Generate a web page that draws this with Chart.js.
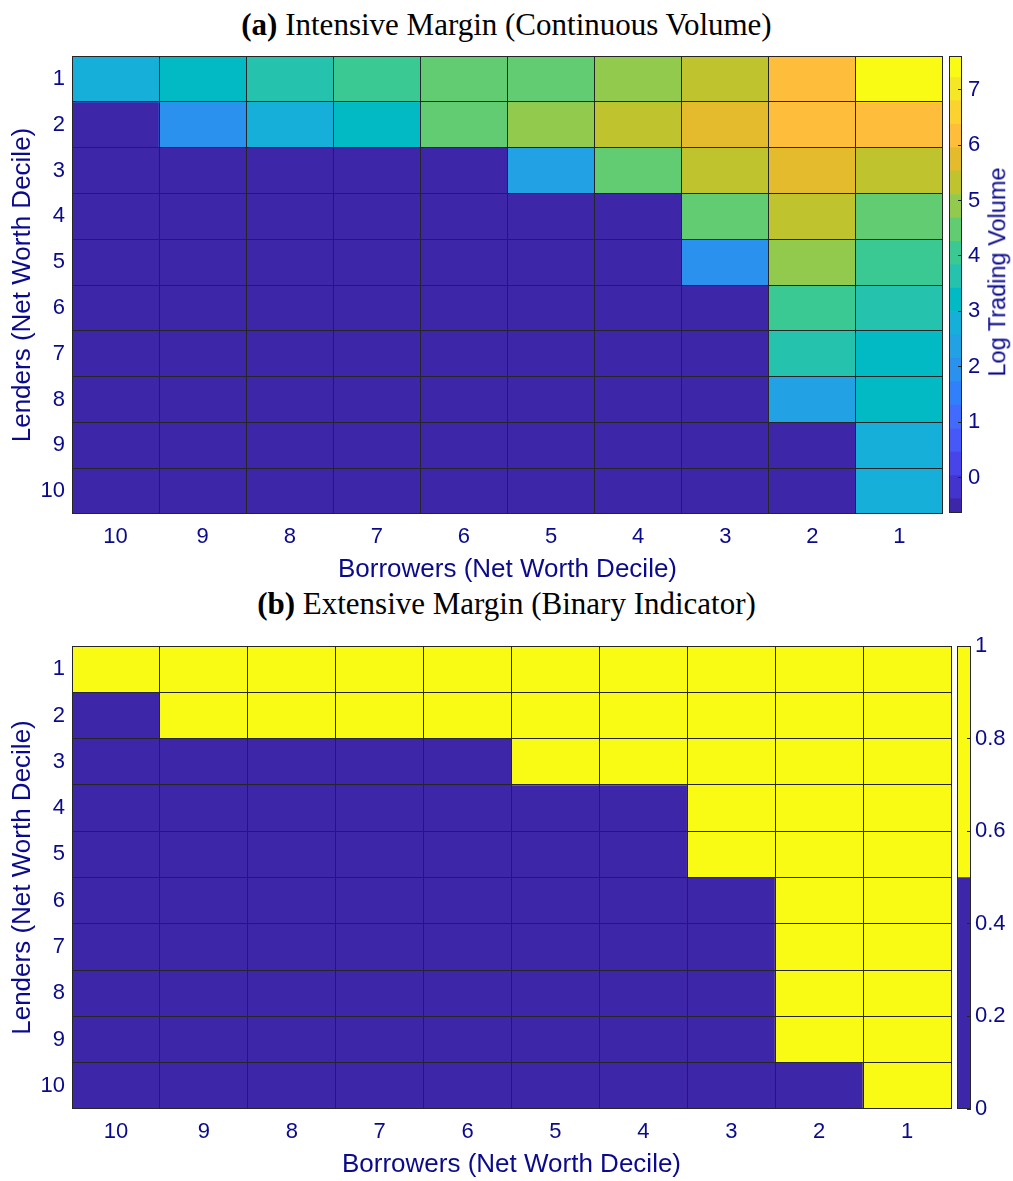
<!DOCTYPE html>
<html><head><meta charset="utf-8">
<script src="https://cdn.jsdelivr.net/npm/chart.js@4.4.1/dist/chart.umd.min.js"></script>
<style>
html,body{margin:0;padding:0;background:#fff;width:1013px;height:1181px;overflow:hidden;position:relative;}
canvas{position:absolute;}
.ttl{position:absolute;left:0;width:1013px;text-align:center;font-family:"Liberation Serif","Times New Roman",serif;font-size:31px;color:#000;white-space:nowrap;line-height:1;}
.cbl{position:absolute;font-family:"Liberation Sans",Arial,sans-serif;font-size:23.5px;color:#0a0a8c;white-space:nowrap;line-height:1;transform:translate(-50%,-50%) rotate(-90deg);}
</style></head><body>
<div class="ttl" style="top:9px"><b>(a)</b> Intensive Margin (Continuous Volume)</div>
<div class="ttl" style="top:588px"><b>(b)</b> Extensive Margin (Binary Indicator)</div>
<canvas id="heatA" width="945" height="531" style="left:0;top:54px"></canvas>
<canvas id="barA" width="66" height="489" style="left:947px;top:40px"></canvas>
<div class="cbl" style="left:998px;top:272px">Log Trading Volume</div>
<canvas id="heatB" width="953" height="536" style="left:0;top:644px"></canvas>
<canvas id="barB" width="58" height="495" style="left:955px;top:630px"></canvas>
<script>
// ---- categories ----
const borrowerDeciles = ['10','9','8','7','6','5','4','3','2','1'];
const lenderDeciles = [1,2,3,4,5,6,7,8,9,10];

// ---- (a) log trading volume, one array per lender decile (null = no trade) ----
const logVolL1  = [2.85, 3.25, 3.62, 4.02, 4.38, 4.60, 4.95, 5.35, 6.22, 7.55];
const logVolL2  = [null, 1.95, 2.75, 3.15, 4.45, 4.85, 5.40, 5.80, 6.10, 6.25];
const logVolL3  = [null, null, null, null, null, 2.40, 4.55, 5.25, 5.70, 5.20];
const logVolL4  = [null, null, null, null, null, null, null, 4.50, 5.45, 4.40];
const logVolL5  = [null, null, null, null, null, null, null, 1.90, 5.00, 4.15];
const logVolL6  = [null, null, null, null, null, null, null, null, 4.10, 3.70];
const logVolL7  = [null, null, null, null, null, null, null, null, 3.55, 3.30];
const logVolL8  = [null, null, null, null, null, null, null, null, 2.30, 3.10];
const logVolL9  = [null, null, null, null, null, null, null, null, -0.55, 2.90];
const logVolL10 = [null, null, null, null, null, null, null, null, null, 2.70];

// ---- (b) binary trade indicator ----
const tradeL1  = [1,1,1,1,1,1,1,1,1,1];
const tradeL2  = [0,1,1,1,1,1,1,1,1,1];
const tradeL3  = [0,0,0,0,0,1,1,1,1,1];
const tradeL4  = [0,0,0,0,0,0,0,1,1,1];
const tradeL5  = [0,0,0,0,0,0,0,1,1,1];
const tradeL6  = [0,0,0,0,0,0,0,0,1,1];
const tradeL7  = [0,0,0,0,0,0,0,0,1,1];
const tradeL8  = [0,0,0,0,0,0,0,0,1,1];
const tradeL9  = [0,0,0,0,0,0,0,0,1,1];
const tradeL10 = [0,0,0,0,0,0,0,0,0,1];

// ---- colour bar ticks ----
const volumeTicks = [0,1,2,3,4,5,6,7];
const binaryTicks = [0,0.2,0.4,0.6,0.8,1];

const logVolume = [logVolL1,logVolL2,logVolL3,logVolL4,logVolL5,logVolL6,logVolL7,logVolL8,logVolL9,logVolL10];
const tradeInd = [tradeL1,tradeL2,tradeL3,tradeL4,tradeL5,tradeL6,tradeL7,tradeL8,tradeL9,tradeL10];

// ---- styles ----
const parula20 = ['#3e26a8','#4434ce','#4745e9','#4758f8','#416bfe','#307ffb','#2b91ef','#22a1e4','#15afd9','#02bac4',
                  '#25c2ad','#3bc993','#61cc71','#91ca4c','#bec32e','#e4bb2c','#febe3c','#fbd22f','#f5e725','#f9fb14'];
const binaryColors = ['#3e26a8','#f9fb14'];
const volClim = [-0.806, 7.645];
const volAxis = [-0.64, 7.61];
const TXT = '#0a0a8c';
const SANS = '"Liberation Sans", Arial, sans-serif';
const LINE = '#262626';

function levelOf(v, lo, hi, n) {
  if (v === null || v === undefined) return 0;
  let k = Math.floor((v - lo) / (hi - lo) * n);
  return Math.max(0, Math.min(n - 1, k));
}
const volColor = v => parula20[levelOf(v, volClim[0], volClim[1], parula20.length)];
const binColor = v => binaryColors[levelOf(v, 0, 1, 2)];

Chart.defaults.animation = false;

function noPad(s) { s.paddingTop = 0; s.paddingBottom = 0; s.paddingLeft = 0; s.paddingRight = 0; }

function heatmap(id, rows, colorOf) {
  const datasets = rows.map((vals, i) => ({
    data: borrowerDeciles.map(() => [lenderDeciles[i] - 0.5, lenderDeciles[i] + 0.5]),
    backgroundColor: vals.map(colorOf),
    borderWidth: 0, barPercentage: 1, categoryPercentage: 1, grouped: false
  }));
  return new Chart(document.getElementById(id), {
    type: 'bar',
    data: { labels: borrowerDeciles, datasets },
    options: {
      responsive: false, animation: false,
      layout: { padding: { top: 2, right: 2, left: 0, bottom: 0 } },
      plugins: { legend: { display: false }, tooltip: { enabled: false } },
      scales: {
        x: {
          type: 'category', offset: true,
          grid: { offset: true, z: 1, color: LINE, lineWidth: 1, drawTicks: false },
          border: { display: false },
          ticks: { color: TXT, font: { family: SANS, size: 22 }, padding: 10, maxRotation: 0, autoSkip: false },
          title: { display: true, text: 'Borrowers (Net Worth Decile)', color: TXT, font: { family: SANS, size: 26 }, padding: { top: 0, bottom: 0 } },
          afterFit: s => { s.height = 71; noPad(s); }
        },
        y: {
          type: 'linear', reverse: true, min: 0.5, max: 10.5,
          afterBuildTicks: s => { s.ticks = lenderDeciles.map(v => ({ value: v })); },
          grid: { offset: true, z: 1, color: LINE, lineWidth: 1, drawTicks: false },
          border: { display: false },
          ticks: { color: TXT, font: { family: SANS, size: 22 }, padding: 7, autoSkip: false, callback: v => String(v) },
          title: { display: true, text: 'Lenders (Net Worth Decile)', color: TXT, font: { family: SANS, size: 26 }, padding: { top: 7, bottom: 0 } },
          afterFit: s => { s.width = 72; noPad(s); }
        }
      }
    }
  });
}

const framePlugin = {
  id: 'frame',
  afterDatasetsDraw(chart) {
    const a = chart.chartArea, ctx = chart.ctx;
    ctx.save();
    ctx.strokeStyle = LINE; ctx.lineWidth = 1;
    ctx.strokeRect(Math.round(a.left) + 0.5, Math.round(a.top) + 0.5, Math.round(a.right - a.left) - 1, Math.round(a.bottom - a.top) - 1);
    ctx.restore();
  }
};

function colorbar(id, bounds, colors, axisMin, axisMax, ticks, barWidth, pad, fmt) {
  const datasets = colors.map((c, k) => ({
    data: [[bounds[k], bounds[k + 1]]],
    backgroundColor: c, borderWidth: 0, barPercentage: 1, categoryPercentage: 1, grouped: false
  }));
  const cv = document.getElementById(id);
  return new Chart(cv, {
    type: 'bar',
    data: { labels: [''], datasets },
    plugins: [framePlugin],
    options: {
      responsive: false, animation: false,
      layout: { padding: { top: 16, bottom: 16, left: 2, right: 0 } },
      plugins: { legend: { display: false }, tooltip: { enabled: false } },
      scales: {
        x: { display: false },
        y: {
          type: 'linear', position: 'right', min: axisMin, max: axisMax,
          afterBuildTicks: s => { s.ticks = ticks.map(v => ({ value: v })); },
          grid: { drawOnChartArea: false, drawTicks: true, tickLength: -4, color: LINE, z: 1 },
          border: { display: false },
          ticks: { color: TXT, font: { family: SANS, size: 22 }, padding: pad, autoSkip: false, callback: fmt },
          afterFit: s => { s.width = cv.width - 2 - barWidth; noPad(s); }
        }
      }
    }
  });
}

heatmap('heatA', logVolume, volColor);
heatmap('heatB', tradeInd, binColor);

const step = (volClim[1] - volClim[0]) / parula20.length;
const volBounds = parula20.map((c, k) => volClim[0] + k * step).concat([volClim[1]]);
colorbar('barA', volBounds, parula20, volAxis[0], volAxis[1], volumeTicks, 13, 10, v => String(v));
colorbar('barB', [0, 0.5, 1], binaryColors, 0, 1, binaryTicks, 14, 8, v => String(v));
</script>
</body></html>
